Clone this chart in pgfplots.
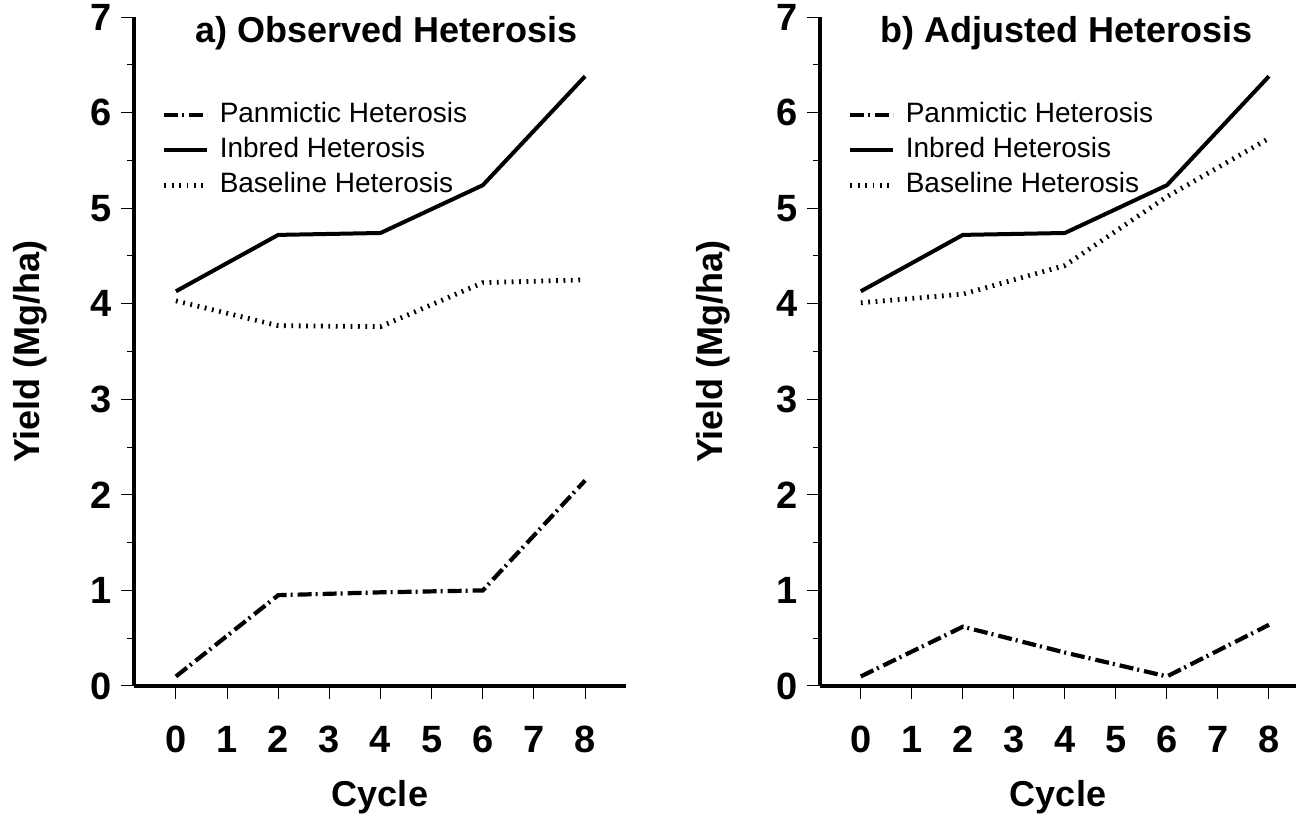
\documentclass[border=0pt]{standalone}
\usepackage{fontspec}
\setmainfont{Liberation Sans}
\usepackage{pgfplots}
\usepackage{pgfplotstable}
\pgfplotsset{compat=1.18}
\pgfplotstableread{
x pan inb base
0 0.10 4.13 4.03
2 0.95 4.72 3.77
4 0.98 4.74 3.76
6 1.00 5.24 4.22
8 2.15 6.38 4.25
}\tblA
\pgfplotstableread{
x pan inb base
0 0.10 4.13 4.01
2 0.62 4.72 4.10
4 0.35 4.74 4.40
6 0.10 5.24 5.12
8 0.64 6.38 5.73
}\tblB
\pgfplotsset{
 myax/.style={
  scale only axis, height=334.5pt, ymin=0, ymax=7, ytick={0,...,7}, minor y tick num=1,
  xtick={0,...,8},
  axis x line*=bottom, axis y line*=left,
  axis line style={line width=1.6pt},
  tick align=outside, major tick length=6.5pt, minor tick length=3.5pt,
  tick style={line width=0.5pt, black},
  /pgf/number format/assume math mode=true,
  tick label style={font=\fontsize{19}{22}\selectfont\bfseries},
  xticklabel style={yshift=-10pt},
  yticklabel style={xshift=-1pt},
  label style={font=\fontsize{18}{21}\selectfont\bfseries},
  every axis title shift=0pt,
  title style={font=\fontsize{18}{21}\selectfont\bfseries, anchor=center, yshift=0pt},
  xlabel=Cycle, ylabel={Yield (Mg/ha)},
  xlabel style={at={(axis description cs:0.5,-0.166)}, anchor=center},
  legend cell align=left,
  legend style={draw=none, fill=none, font=\fontsize{14}{16}\selectfont, anchor=north west,
    inner sep=0pt, row sep=4.5pt, nodes={inner ysep=0pt, text height=10pt, text depth=3pt},
    /tikz/every odd column/.append style={column sep=3pt}},
  legend image code/.code={\draw[##1] (0pt,0pt) -- (21.5pt,0pt);},
 },
 pan/.style={black, line width=2.1pt, dash pattern=on 7pt off 2pt on 1pt off 2.5pt},
 inb/.style={black, line width=2pt},
 base/.style={black, line width=2.4pt, dash pattern=on 0.9pt off 2.8pt},
}
\begin{document}
\begin{tikzpicture}
\path[use as bounding box] (0,0) rectangle (648pt,408.5pt);
\begin{axis}[myax, at={(67pt,65.5pt)}, anchor=south west, width=246pt,
  xmin=-0.82, xmax=8.8,
  title={a) Observed Heterosis}, title style={at={(axis description cs:0.514,0.976)}},
  ylabel style={at={(axis description cs:-0.211,0.5)}, anchor=center},
  legend style={at={(axis description cs:0.056,0.873)}}]
\addplot[pan] table[x=x,y=pan] {\tblA};
\addlegendentry{Panmictic Heterosis}
\addplot[inb] table[x=x,y=inb] {\tblA};
\addlegendentry{Inbred Heterosis}
\addplot[base] table[x=x,y=base] {\tblA};
\addlegendentry{Baseline Heterosis}
\end{axis}
\begin{axis}[myax, at={(410pt,65.5pt)}, anchor=south west, width=238pt,
  xmin=-0.8, xmax=8.53,
  title={b) Adjusted Heterosis}, title style={at={(axis description cs:0.517,0.976)}},
  ylabel style={at={(axis description cs:-0.225,0.5)}, anchor=center},
  legend style={at={(axis description cs:0.058,0.873)}}]
\addplot[pan] table[x=x,y=pan] {\tblB};
\addlegendentry{Panmictic Heterosis}
\addplot[inb] table[x=x,y=inb] {\tblB};
\addlegendentry{Inbred Heterosis}
\addplot[base] table[x=x,y=base] {\tblB};
\addlegendentry{Baseline Heterosis}
\end{axis}
\end{tikzpicture}
\end{document}
